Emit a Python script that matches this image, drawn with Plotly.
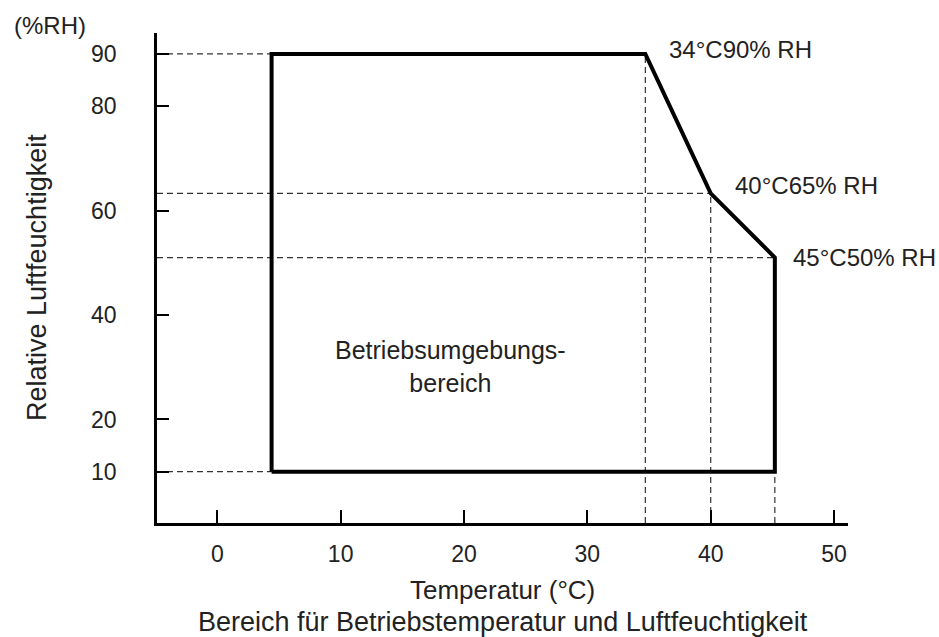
import plotly.graph_objects as go

# Data
temp = [4.4, 4.4, 34.7, 40.0, 45.2, 45.2, 4.4]
rh = [10, 90, 90, 63.3, 51.0, 10, 10]
x_ticks = [0, 10, 20, 30, 40, 50]
y_ticks = [10, 20, 40, 60, 80, 90]
corner_labels = ["34°C90% RH", "40°C65% RH", "45°C50% RH"]
region_label = "Betriebsumgebungs-<br>bereich"
x_title = "Temperatur (°C)"
y_title = "Relative Luftfeuchtigkeit"
y_unit = "(%RH)"
caption = "Bereich für Betriebstemperatur und Luftfeuchtigkeit"

FONT = "Liberation Sans, Arial, Helvetica, sans-serif"
TXT = "#222222"
DASH = "#333333"
XR = [-4.89, 51.13]
YR = [0.17, 94.0]

fig = go.Figure()
fig.add_trace(go.Scatter(x=temp, y=rh, mode="lines",
                         line=dict(color="black", width=4),
                         hoverinfo="skip", showlegend=False))

dash = dict(color=DASH, width=1.2, dash="6px,4px")
# horizontal guides from the y axis to the points
for xv, yv in [(temp[1], rh[1]), (temp[3], rh[3]), (temp[4], rh[4]), (temp[0], rh[0])]:
    fig.add_shape(type="line", xref="paper", yref="y", x0=0, y0=yv,
                  x1=(xv - XR[0]) / (XR[1] - XR[0]), y1=yv, line=dash, layer="below")
# vertical guides from the points down to the x axis
for xv, yv in [(temp[2], rh[2]), (temp[3], rh[3]), (temp[5], rh[5])]:
    fig.add_shape(type="line", xref="x", yref="paper", x0=xv, y0=0,
                  x1=xv, y1=(yv - YR[0]) / (YR[1] - YR[0]), line=dash, layer="below")

pts = [(temp[2], rh[2], 22, 4), (temp[3], rh[3], 22, 8), (temp[4], rh[4], 16, 0)]
for (xv, yv, dx, dy), lab in zip(pts, corner_labels):
    fig.add_annotation(x=xv, y=yv, text=lab, showarrow=False, xanchor="left",
                       yanchor="middle", xshift=dx, yshift=dy,
                       font=dict(family=FONT, size=24, color=TXT))

fig.add_annotation(x=18.9, y=30.1, text=region_label, showarrow=False,
                   font=dict(family=FONT, size=25, color=TXT), align="center")

fig.add_annotation(xref="paper", yref="paper", x=(12 - 157) / (848 - 157), y=1.0, yshift=8,
                   text=y_unit, showarrow=False, xanchor="left", yanchor="middle",
                   font=dict(family=FONT, size=24, color=TXT))
fig.add_annotation(xref="paper", yref="paper", x=(37 - 157) / (848 - 157), y=0.5,
                   text=y_title, textangle=-90, showarrow=False,
                   xanchor="center", yanchor="middle",
                   font=dict(family=FONT, size=27, color=TXT))
fig.add_annotation(xref="paper", yref="paper", x=0.5, y=0,
                   yshift=-67, text=x_title, showarrow=False,
                   xanchor="center", yanchor="middle",
                   font=dict(family=FONT, size=26, color=TXT))
fig.add_annotation(xref="paper", yref="paper", x=0.5, y=0,
                   yshift=-99, text=caption, showarrow=False,
                   xanchor="center", yanchor="middle",
                   font=dict(family=FONT, size=27, color=TXT))

fig.update_layout(
    width=939, height=637,
    margin=dict(l=157, r=91, t=33, b=114),
    plot_bgcolor="white", paper_bgcolor="white",
    showlegend=False,
    xaxis=dict(range=XR, tickvals=x_ticks, ticks="inside", ticklen=13,
               tickwidth=2, tickcolor="black", showline=True, linecolor="black",
               linewidth=2.5, showgrid=False, zeroline=False,
               ticklabelstandoff=9,
               tickfont=dict(family=FONT, size=23, color=TXT)),
    yaxis=dict(range=YR, tickvals=y_ticks, ticks="inside", ticklen=12,
               tickwidth=2, tickcolor="black", showline=True, linecolor="black",
               linewidth=2.5, showgrid=False, zeroline=False,
               ticklabelstandoff=33,
               tickfont=dict(family=FONT, size=23, color=TXT)),
)

fig.write_html("out.html", config={"displayModeBar": False},
               post_script="document.body.style.margin='0';document.body.style.overflow='hidden';")
